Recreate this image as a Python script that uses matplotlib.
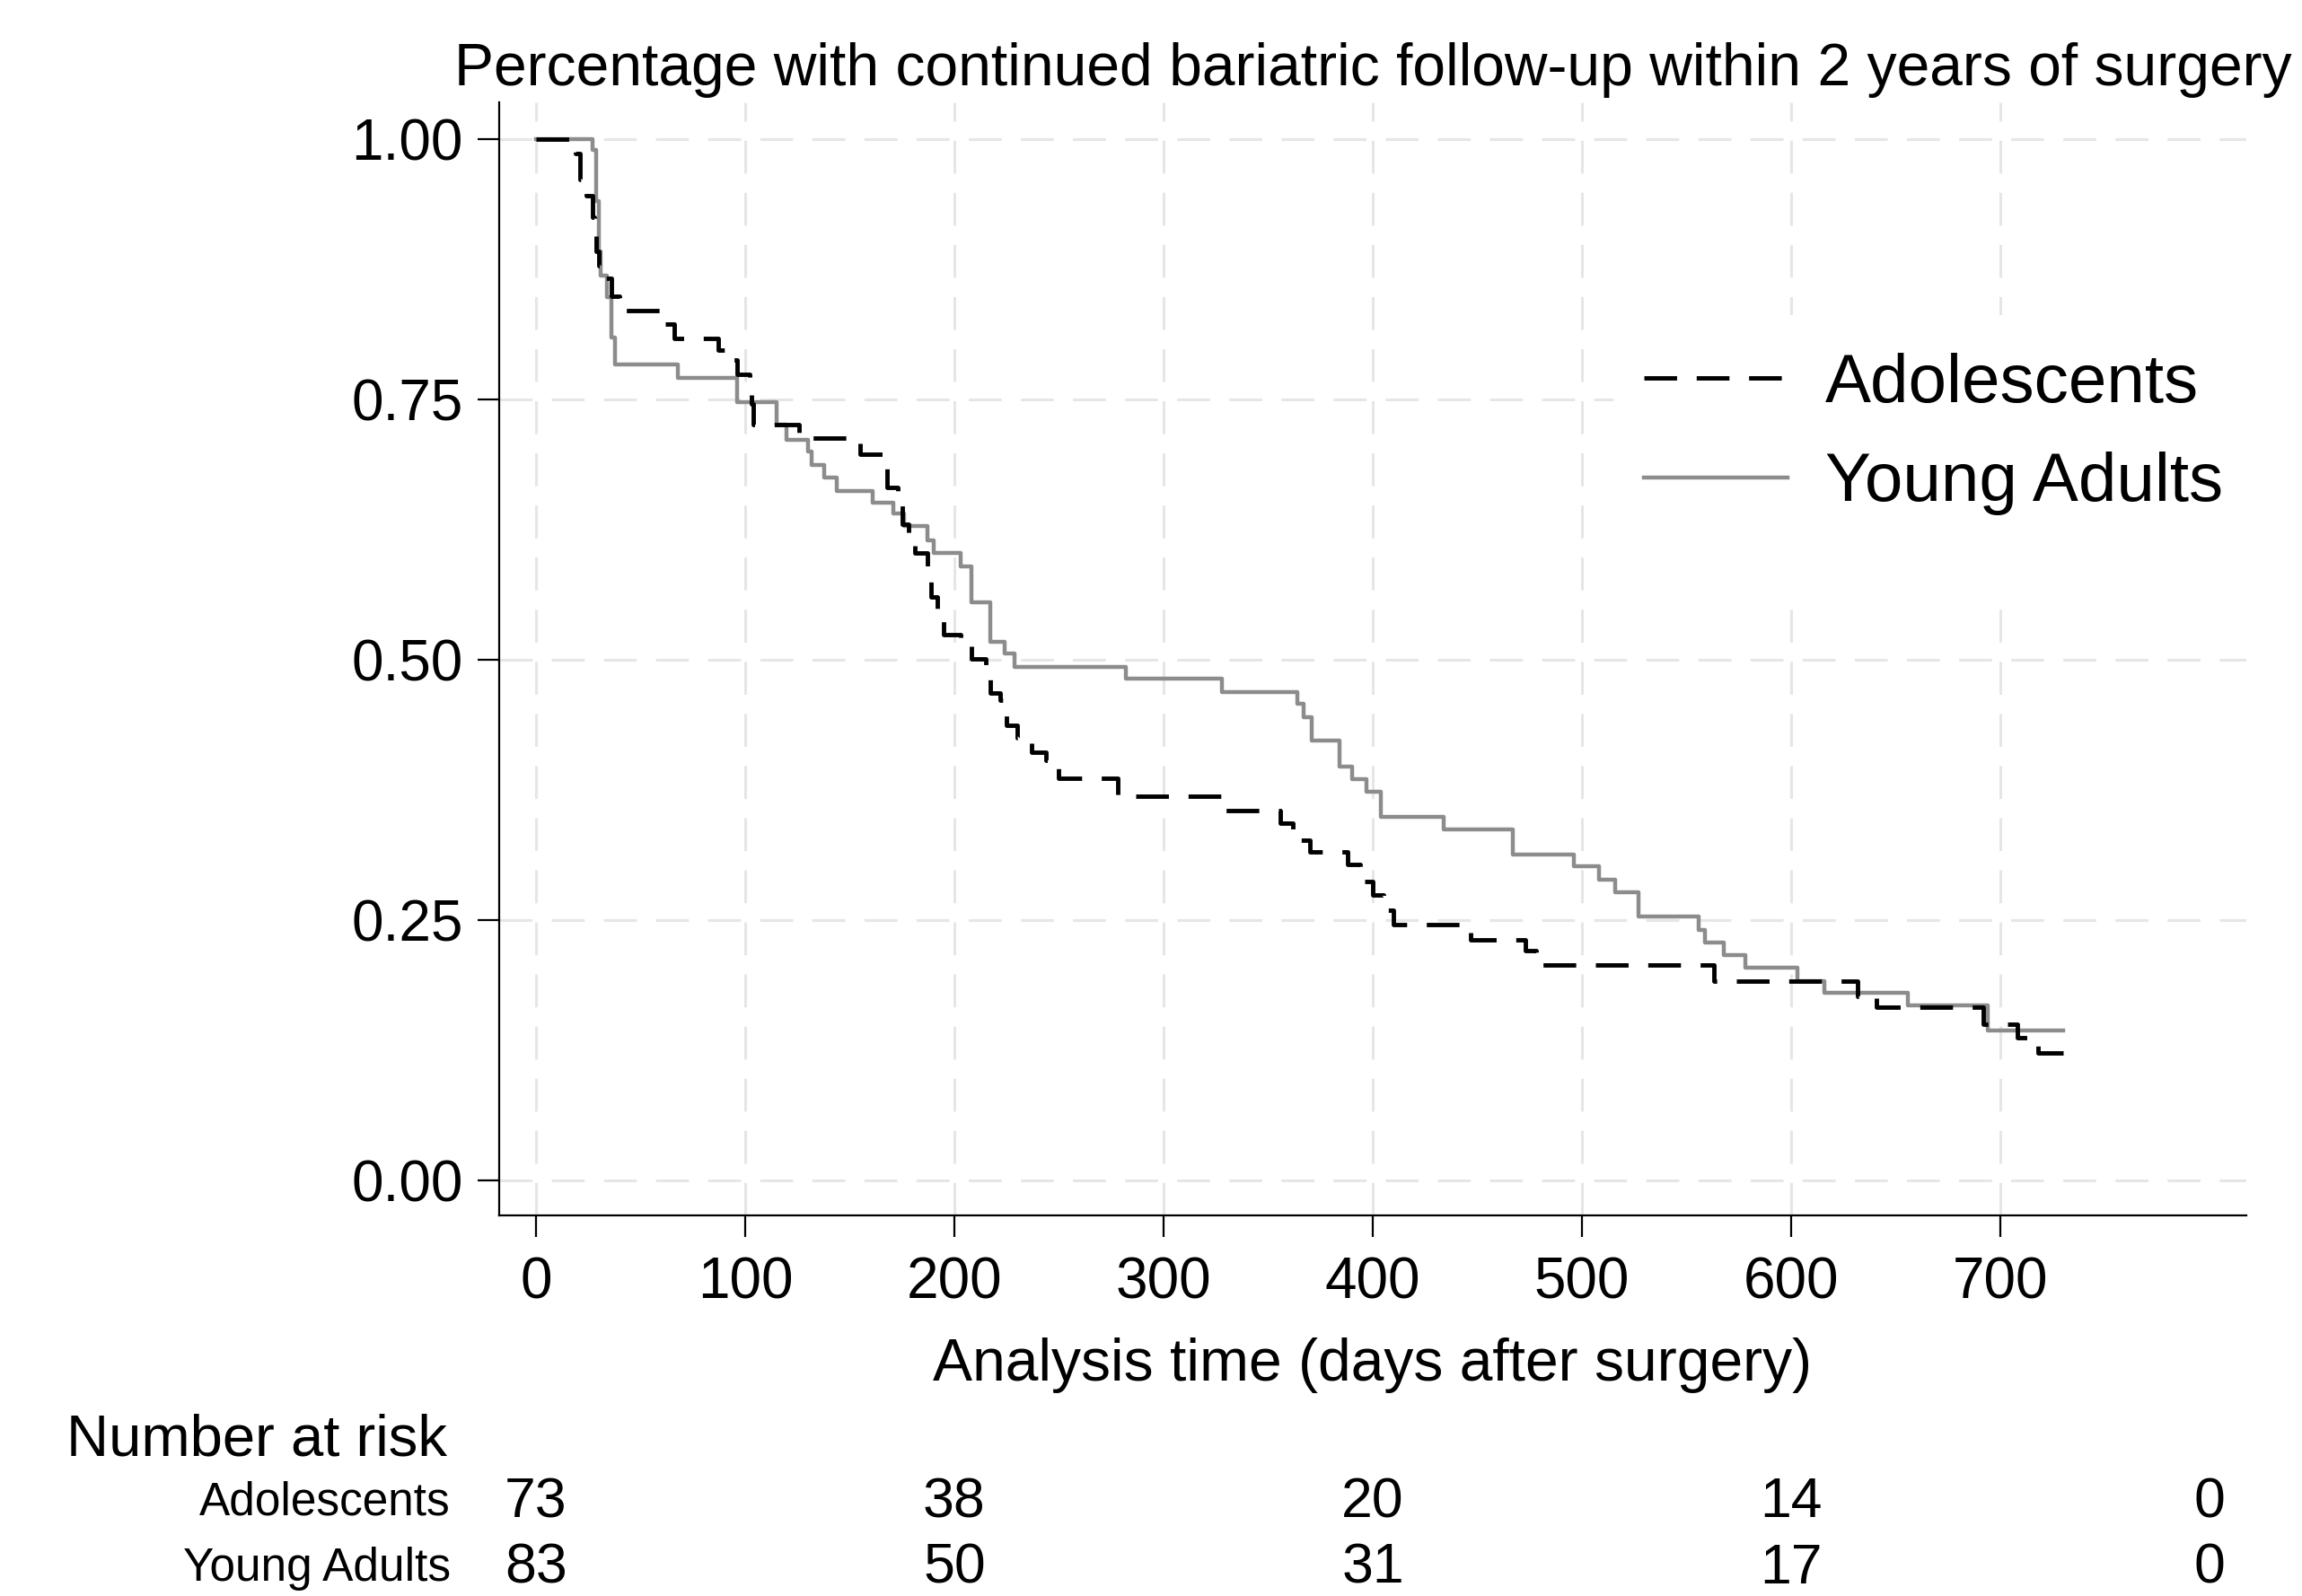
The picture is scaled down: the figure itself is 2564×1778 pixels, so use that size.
import matplotlib
matplotlib.use("Agg")
import matplotlib.pyplot as plt
from matplotlib.patches import Rectangle
from matplotlib.transforms import blended_transform_factory

plt.rcParams["font.family"] = ["Liberation Sans", "DejaVu Sans"]

# Kaplan-Meier steps (day of step, survival after step)
adol_days = [0, 19, 21, 24, 27, 28, 29, 30, 33, 36, 40, 62, 66, 87, 92, 96,
             102, 103, 104, 126, 155, 166, 168, 173, 175, 178, 181, 187, 189,
             192, 195, 203, 208, 215, 217, 222, 225, 230, 237, 244, 250, 278,
             328, 356, 362, 370, 388, 394, 400, 405, 410, 447, 473, 478, 563,
             632, 641, 692, 708, 718]
adol_surv = [1.000, 0.986, 0.961, 0.945, 0.925, 0.907, 0.892, 0.878, 0.866,
             0.849, 0.835, 0.822, 0.808, 0.797, 0.788, 0.774, 0.760, 0.745,
             0.726, 0.713, 0.697, 0.683, 0.665, 0.652, 0.630, 0.616, 0.602,
             0.586, 0.560, 0.547, 0.524, 0.515, 0.501, 0.494, 0.468, 0.461,
             0.437, 0.425, 0.411, 0.403, 0.386, 0.369, 0.355, 0.343, 0.327,
             0.315, 0.303, 0.287, 0.274, 0.259, 0.246, 0.231, 0.221, 0.207,
             0.191, 0.177, 0.166, 0.150, 0.137, 0.122]

young_days = [0, 27, 29, 30, 31, 34, 36, 38, 68, 96, 115, 120, 130, 132, 138,
              144, 161, 171, 176, 187, 190, 203, 208, 217, 224, 229, 282, 328,
              364, 367, 371, 384, 390, 397, 404, 434, 467, 496, 508, 516, 527,
              556, 559, 568, 578, 603, 616, 656, 694]
young_surv = [1.000, 0.989, 0.940, 0.892, 0.869, 0.848, 0.809, 0.783, 0.770,
              0.747, 0.726, 0.711, 0.700, 0.687, 0.675, 0.662, 0.651, 0.640,
              0.628, 0.614, 0.602, 0.589, 0.555, 0.517, 0.506, 0.493, 0.482,
              0.469, 0.458, 0.445, 0.422, 0.397, 0.385, 0.373, 0.349, 0.337,
              0.313, 0.302, 0.289, 0.277, 0.253, 0.240, 0.228, 0.216, 0.204,
              0.191, 0.180, 0.168, 0.144]
end_day = 730

risk_days = [0, 200, 400, 600, 800]
risk_groups = ["Adolescents", "Young Adults"]
risk_adol = [73, 38, 20, 14, 0]
risk_young = [83, 50, 31, 17, 0]

title = "Percentage with continued bariatric follow-up within 2 years of surgery"
xlabel = "Analysis time (days after surgery)"
xticks = [0, 100, 200, 300, 400, 500, 600, 700]
yticks = [0.0, 0.25, 0.50, 0.75, 1.00]

fig = plt.figure(figsize=(25.64, 17.78), dpi=100)
ax = fig.add_axes([0.2168, 0.2385, 0.9758 - 0.2168, 0.9359 - 0.2385])

ax.step(young_days + [end_day], young_surv + [young_surv[-1]], where="post",
        color="#8c8c8c", lw=3.2, label="Young Adults", zorder=2)
ax.step(adol_days + [end_day], adol_surv + [adol_surv[-1]], where="post",
        color="black", lw=3.5, linestyle=(0, (7.5, 4.5)), label="Adolescents",
        zorder=3)

ax.set_xlim(-17.6, 817.6)
ax.set_ylim(-0.0336, 1.035)
ax.set_xticks(xticks)
ax.set_yticks(yticks)
ax.set_yticklabels([f"{v:.2f}" for v in yticks])

ax.set_axisbelow(True)
ax.grid(True, color="#e6e6e6", lw=2.2, linestyle=(0, (12, 7)))

for side in ["top", "right"]:
    ax.spines[side].set_visible(False)
for side in ["left", "bottom"]:
    ax.spines[side].set_linewidth(1.6)

ax.tick_params(axis="both", labelsize=46, length=17, width=1.6)
ax.tick_params(axis="y", pad=12)
ax.tick_params(axis="x", pad=16)

ax.set_title(title, fontsize=47.5, pad=14)
ax.set_xlabel(xlabel, fontsize=47.5, labelpad=22)

# white legend area hiding the grid
ax.add_patch(Rectangle((0.638, 0.552), 0.362, 0.257, transform=ax.transAxes,
                       facecolor="white", edgecolor="none", zorder=1))
handles, labels = ax.get_legend_handles_labels()
ax.legend(handles[::-1], labels[::-1], loc="center left",
          bbox_to_anchor=(0.655, 0.702), frameon=False, fontsize=55,
          handlelength=2.1, handletextpad=0.55, labelspacing=0.52,
          borderpad=0, borderaxespad=0)

# number at risk table
tr = blended_transform_factory(ax.transData, fig.transFigure)
fig.text(74 / 2564, 1 - 1604 / 1778, "Number at risk", fontsize=47,
         ha="left", va="center")
row_y = [1 - 1674 / 1778, 1 - 1747 / 1778]
for y, name, counts in zip(row_y, risk_groups, [risk_adol, risk_young]):
    fig.text(502 / 2564, y, name, fontsize=37, ha="right", va="center")
    for d, n in zip(risk_days, counts):
        ax.text(d, y, str(n), transform=tr, fontsize=45, ha="center",
                va="center", clip_on=False)

fig.savefig("out.png", dpi=100)
